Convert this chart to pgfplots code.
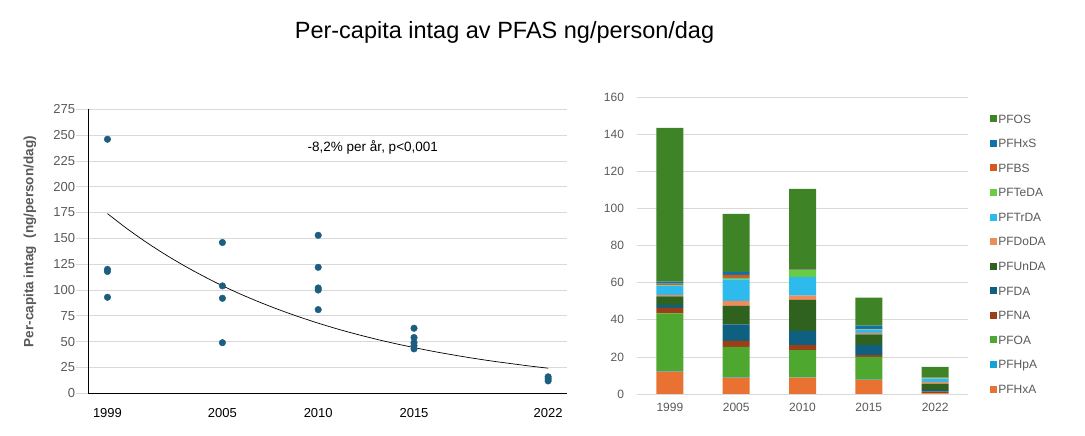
\documentclass[border=0pt]{standalone}
\usepackage{pgfplots}
\pgfplotsset{compat=1.18}
\usepackage{pgfplotstable}
\usepackage{fontspec}
\setmainfont{Liberation Sans}
\definecolor{cPFOS}{HTML}{3E8426}
\definecolor{cPFHxS}{HTML}{1172A8}
\definecolor{cPFBS}{HTML}{D5581C}
\definecolor{cPFTeDA}{HTML}{6ACC44}
\definecolor{cPFTrDA}{HTML}{2FBAEE}
\definecolor{cPFDoDA}{HTML}{EE8C5C}
\definecolor{cPFUnDA}{HTML}{2E621E}
\definecolor{cPFDA}{HTML}{0E5F80}
\definecolor{cPFNA}{HTML}{9C3F14}
\definecolor{cPFOA}{HTML}{4EA72E}
\definecolor{cPFHpA}{HTML}{16A1D9}
\definecolor{cPFHxA}{HTML}{E97132}
\definecolor{scat}{HTML}{1B5E80}
\definecolor{gridc}{HTML}{D9D9D9}
\definecolor{txtgray}{HTML}{595959}

\pgfplotstableread{
x PFHxA PFHpA PFOA PFNA PFDA PFUnDA PFDoDA PFTrDA PFTeDA PFBS PFHxS PFOS
0 12.0 0.4 31.1 3.0 1.5 4.7 0.7 5.0 0.4 0.7 1.1 82.9
1 8.8 0.3 16.3 3.2 9.0 9.9 2.7 11.6 0.8 1.6 1.6 31.3
2 8.8 0.2 14.7 2.7 7.6 16.7 2.3 10.1 3.8 0.2 0.3 43.2
3 7.6 0.2 12.2 1.0 5.4 5.8 0.7 1.8 0.2 0.2 1.8 15.1
4 0.3 0.0 0.2 0.8 0.9 3.4 1.0 1.7 0.4 0.1 0.1 5.7
}\bars

\pgfplotstableread{
year val
1999 246
1999 120
1999 118
1999 93
2005 146
2005 104
2005 92
2005 49
2010 153
2010 122
2010 102
2010 100
2010 81
2015 63
2015 54
2015 49
2015 46
2015 43
2022 16
2022 14
2022 12
}\scatter

\pgfplotstableread{
year val
1999 174.0
2000 159.7
2001 146.6
2002 134.6
2003 123.6
2004 113.5
2005 104.1
2006 95.6
2007 87.8
2008 80.6
2009 74.0
2010 67.9
2011 62.3
2012 57.2
2013 52.5
2014 48.2
2015 44.3
2016 40.6
2017 37.3
2018 34.2
2019 31.4
2020 28.9
2021 26.5
2022 24.3
}\trend

\pgfplotsset{sq/.style={fill=#1, draw=none,
  legend image code/.code={\fill[#1] (0pt,-3.5pt) rectangle (7pt,3.5pt);}}}

\begin{document}
\begin{tikzpicture}[x=1pt,y=1pt]
\path (0,0) rectangle (1085,436);
\node[font=\fontsize{23.5}{27}\selectfont] at (504.5,404) {Per-capita intag av PFAS ng/person/dag};

\begin{axis}[
  at={(88.3pt,42.7pt)}, anchor=south west, scale only axis,
  width=479pt, height=284pt,
  xmin=1998, xmax=2023, ymin=0, ymax=275,
  xtick={1999,2005,2010,2015,2022}, ytick={0,25,...,275},
  /pgf/number format/1000 sep={},
  /pgf/number format/assume math mode=true,
  axis lines*=left, axis line style={black, line width=0.8pt},
  ymajorgrids, grid style={gridc, line width=0.7pt},
  tick align=outside, major tick length=12pt,
  ytick style={draw=gridc, line width=0.7pt}, xtick style={draw=none},
  yticklabel style={font=\fontsize{13}{15}\selectfont, text=txtgray, inner sep=1pt},
  xticklabel style={font=\fontsize{13}{15}\selectfont, text=black},
  ylabel={Per-capita intag\ \ (ng/person/dag)},
  ylabel style={at={(rel axis cs:-0.1217,0.534)}, anchor=center,
    font=\bfseries\fontsize{13.5}{15}\selectfont, text=txtgray},
  clip=false,
]
\addplot[black, line width=0.7pt, smooth, no marks] table[x=year,y=val] {\trend};
\addplot[only marks, mark=*, mark size=3.3pt, color=scat] table[x=year,y=val] {\scatter};
\node[font=\fontsize{13.5}{15}\selectfont] at (axis cs:2012.85,238) {-8,2\% per år, p<0,001};
\end{axis}

\begin{axis}[
  at={(636.7pt,42pt)}, anchor=south west, scale only axis,
  width=331.6pt, height=296.7pt,
  ybar stacked, bar width=27pt,
  xmin=-0.5, xmax=4.5, ymin=0, ymax=160,
  xtick={0,1,2,3,4}, xticklabels={1999,2005,2010,2015,2022},
  ytick={0,20,...,160},
  /pgf/number format/assume math mode=true,
  axis line style={draw=none}, major tick length=0pt,
  ymajorgrids, grid style={gridc, line width=0.7pt},
  yticklabel style={font=\fontsize{12}{14}\selectfont, text=txtgray, inner sep=0pt, xshift=-12.5pt},
  xticklabel style={font=\fontsize{12}{14}\selectfont, text=txtgray, inner sep=0pt, yshift=-9pt},
  reverse legend,
  legend cell align=left,
  legend style={at={(1.065,0.947)}, anchor=north west, draw=none, fill=none,
    inner sep=0pt, outer sep=0pt, row sep=13.07pt,
    font=\fontsize{12}{14}\selectfont, text=txtgray,
    nodes={inner sep=1.5pt, text height=8.5pt, text depth=0pt}},
]
\addplot[sq=cPFHxA] table[x=x,y=PFHxA] {\bars}; \addlegendentry{PFHxA}
\addplot[sq=cPFHpA] table[x=x,y=PFHpA] {\bars}; \addlegendentry{PFHpA}
\addplot[sq=cPFOA] table[x=x,y=PFOA] {\bars}; \addlegendentry{PFOA}
\addplot[sq=cPFNA] table[x=x,y=PFNA] {\bars}; \addlegendentry{PFNA}
\addplot[sq=cPFDA] table[x=x,y=PFDA] {\bars}; \addlegendentry{PFDA}
\addplot[sq=cPFUnDA] table[x=x,y=PFUnDA] {\bars}; \addlegendentry{PFUnDA}
\addplot[sq=cPFDoDA] table[x=x,y=PFDoDA] {\bars}; \addlegendentry{PFDoDA}
\addplot[sq=cPFTrDA] table[x=x,y=PFTrDA] {\bars}; \addlegendentry{PFTrDA}
\addplot[sq=cPFTeDA] table[x=x,y=PFTeDA] {\bars}; \addlegendentry{PFTeDA}
\addplot[sq=cPFBS] table[x=x,y=PFBS] {\bars}; \addlegendentry{PFBS}
\addplot[sq=cPFHxS] table[x=x,y=PFHxS] {\bars}; \addlegendentry{PFHxS}
\addplot[sq=cPFOS] table[x=x,y=PFOS] {\bars}; \addlegendentry{PFOS}
\end{axis}
\end{tikzpicture}
\end{document}
